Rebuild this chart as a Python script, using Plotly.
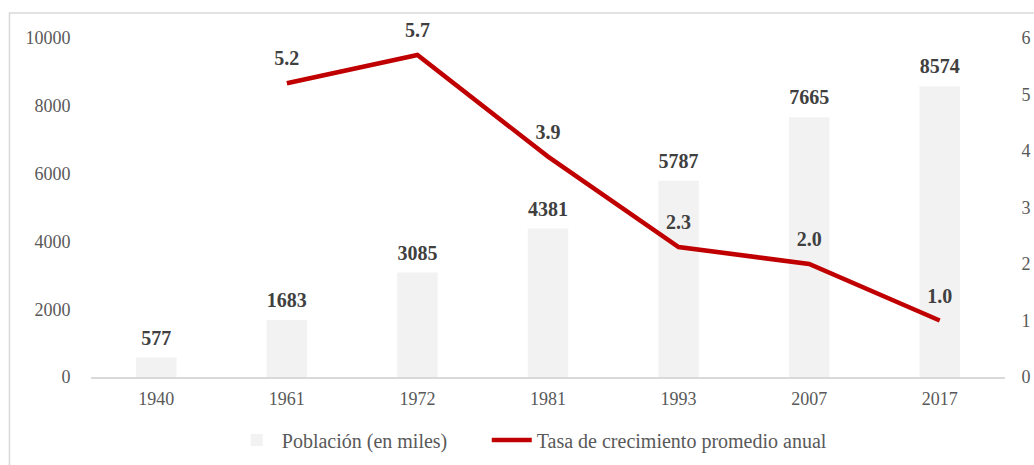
import plotly.graph_objects as go

years = ["1940", "1961", "1972", "1981", "1993", "2007", "2017"]
poblacion = [577, 1683, 3085, 4381, 5787, 7665, 8574]
tasa_years = ["1961", "1972", "1981", "1993", "2007", "2017"]
tasa = [5.2, 5.7, 3.9, 2.3, 2.0, 1.0]

FONT = "Liberation Serif, Times New Roman, serif"
TICK = "#595959"
LABEL = "#404040"
CLEAR = "rgba(0,0,0,0)"

fig = go.Figure()
fig.add_trace(go.Bar(
    x=years, y=poblacion, name="Población (en miles)",
    marker=dict(color="#f2f2f2", line=dict(width=0)),
    width=0.31, yaxis="y", legend="legend",
))
fig.add_trace(go.Scatter(
    x=tasa_years, y=tasa, name="Tasa de crecimiento promedio anual",
    mode="lines", line=dict(color="#c00000", width=4.5), yaxis="y2", legend="legend2",
))
# data labels (invisible markers set the text offset)
fig.add_trace(go.Scatter(
    x=years, y=poblacion, yaxis="y", mode="markers+text",
    text=["<b>%d</b>" % v for v in poblacion], textposition="top center",
    textfont=dict(family=FONT, size=20, color=LABEL), cliponaxis=False,
    marker=dict(size=11, color=CLEAR), showlegend=False, hoverinfo="skip",
))
fig.add_trace(go.Scatter(
    x=tasa_years, y=tasa, yaxis="y2", mode="markers+text",
    text=["<b>%.1f</b>" % v for v in tasa], textposition="top center",
    textfont=dict(family=FONT, size=20, color=LABEL), cliponaxis=False,
    marker=dict(size=19, color=CLEAR), showlegend=False, hoverinfo="skip",
))

legend_common = dict(orientation="h", xanchor="left", y=-0.186, yanchor="middle",
                     font=dict(family=FONT, size=20, color=TICK), itemwidth=40,
                     bgcolor=CLEAR)

fig.update_layout(
    width=1034, height=465,
    margin=dict(l=91, r=29, t=38, b=88, autoexpand=False),
    paper_bgcolor="white", plot_bgcolor="white",
    font=dict(family=FONT, size=18, color=TICK),
    xaxis=dict(type="category", categoryorder="array", categoryarray=years,
               range=[-0.5, 6.5], showgrid=False, showline=True,
               linecolor="#d9d9d9", linewidth=1.5, ticks="outside", ticklen=5,
               tickcolor=CLEAR, automargin=False,
               tickfont=dict(family=FONT, size=18, color=TICK)),
    yaxis=dict(range=[0, 10000], tickvals=[0, 2000, 4000, 6000, 8000, 10000],
               tickformat="d", showgrid=False, zeroline=False, showline=False,
               ticks="outside", ticklen=16, tickcolor=CLEAR, automargin=False,
               tickfont=dict(family=FONT, size=18, color=TICK)),
    yaxis2=dict(range=[0, 6], tickvals=[0, 1, 2, 3, 4, 5, 6], overlaying="y",
                side="right", showgrid=False, zeroline=False, showline=False,
                ticks="outside", ticklen=12, tickcolor=CLEAR, automargin=False,
                tickfont=dict(family=FONT, size=18, color=TICK)),
    legend=dict(x=0.154, **legend_common),
    legend2=dict(x=0.433, **legend_common),
    showlegend=True,
    shapes=[dict(type="rect", xref="paper", yref="paper",
                 x0=-0.0892, x1=1.05, y0=-0.3, y1=1.0737,
                 line=dict(color="#d9d9d9", width=1.5), layer="above")],
)

fig.write_html("out.html", config={"displayModeBar": False},
               post_script="document.body.style.margin='0';")
